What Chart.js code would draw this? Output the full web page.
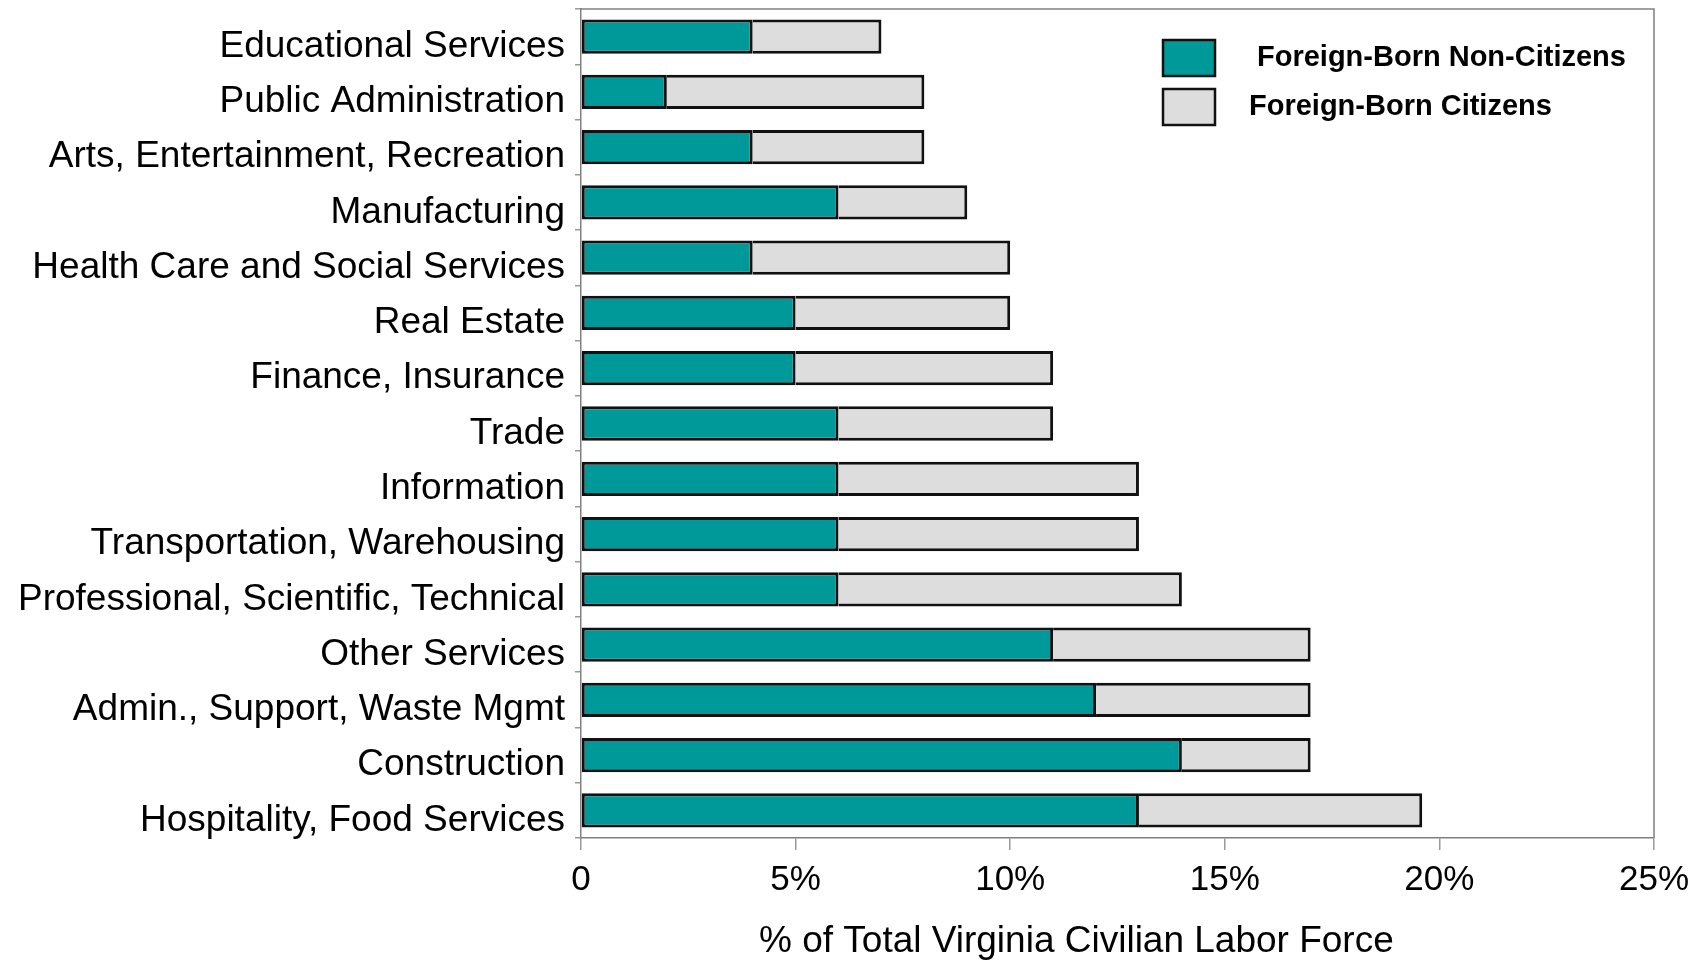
<!DOCTYPE html>
<html>
<head>
<meta charset="utf-8">
<script src="https://cdn.jsdelivr.net/npm/chart.js@4/dist/chart.umd.min.js"></script>
<style>
  html, body { margin: 0; padding: 0; background: #fff; }
  #wrap { width: 1704px; height: 964px; }
</style>
</head>
<body>
<div id="wrap"><canvas id="myChart" width="1704" height="964"></canvas></div>
<script>
const industries = [
  'Educational Services',
  'Public Administration',
  'Arts, Entertainment, Recreation',
  'Manufacturing',
  'Health Care and Social Services',
  'Real Estate',
  'Finance, Insurance',
  'Trade',
  'Information',
  'Transportation, Warehousing',
  'Professional, Scientific, Technical',
  'Other Services',
  'Admin., Support, Waste Mgmt',
  'Construction',
  'Hospitality, Food Services'
];
// % of total labor force
const nonCitizens = [4, 2, 4, 6, 4, 5, 5, 6, 6, 6, 6, 11, 12, 14, 13];
const citizens = [3, 6, 4, 3, 6, 5, 6, 5, 7, 7, 8, 6, 5, 3, 6.6];
const xTicks = [0, 5, 10, 15, 20, 25];
const legendNames = ['Foreign-Born Non-Citizens', 'Foreign-Born Citizens'];
const axisTitle = '% of Total Virginia Civilian Labor Force';

const FONT = '"Liberation Sans", Arial, sans-serif';
const ctx = document.getElementById('myChart').getContext('2d');

// box round the plot + legend in the top right corner
const frameAndLegend = {
  id: 'frameAndLegend',
  afterDraw(chart) {
    const c = chart.ctx;
    const a = chart.chartArea;
    c.save();
    c.strokeStyle = '#808080';
    c.lineWidth = 1.5;
    c.beginPath();
    c.moveTo(a.left, a.top);
    c.lineTo(a.right, a.top);
    c.lineTo(a.right, a.bottom);
    c.stroke();

    const boxes = [
      { x: 1163, y: 40, tx: 1257 },
      { x: 1163, y: 89, tx: 1249 }
    ];
    chart.data.datasets.forEach((ds, i) => {
      const b = boxes[i];
      c.fillStyle = ds.backgroundColor;
      c.fillRect(b.x, b.y, 52, 36);
      c.lineWidth = 2.5;
      c.strokeStyle = '#111';
      c.strokeRect(b.x, b.y, 52, 36);
      c.fillStyle = '#000';
      c.font = 'bold 29px ' + FONT;
      c.textBaseline = 'middle';
      c.textAlign = 'left';
      c.fillText(ds.label, b.tx, b.y + 18);
    });
    c.restore();
  }
};

const myChart = new Chart(ctx, {
  type: 'bar',
  data: {
    labels: industries,
    datasets: [
      {
        label: legendNames[0],
        data: nonCitizens,
        backgroundColor: '#009999',
        borderColor: '#111',
        borderWidth: 3,
        borderSkipped: false
      },
      {
        label: legendNames[1],
        data: citizens,
        backgroundColor: '#DDDDDD',
        borderColor: '#111',
        borderWidth: { left: 0, top: 3, right: 3, bottom: 3 },
        borderSkipped: false
      }
    ]
  },
  options: {
    indexAxis: 'y',
    responsive: false,
    animation: false,
    barPercentage: 0.62,
    categoryPercentage: 1,
    layout: { padding: { top: 9, right: 50, left: 0, bottom: 0 } },
    plugins: {
      legend: { display: false },
      tooltip: { enabled: false }
    },
    scales: {
      x: {
        stacked: true,
        min: 0,
        max: 25,
        afterBuildTicks: (scale) => {
          scale.ticks = xTicks.map((v) => ({ value: v }));
        },
        afterFit: (scale) => {
          scale.height = 126;
          scale.paddingLeft = 0;
          scale.paddingRight = 0;
        },
        ticks: {
          color: '#000',
          font: { family: FONT, size: 35 },
          padding: 9,
          maxRotation: 0,
          callback: (v) => (v === 0 ? '0' : v + '%')
        },
        grid: { drawOnChartArea: false, tickLength: 12, color: '#999', lineWidth: 1.5 },
        border: { color: '#808080', width: 1.5 },
        title: {
          display: true,
          // trailing spaces pull the centred title a little left, as in the original
          text: axisTitle + '        ',
          color: '#000',
          font: { family: FONT, size: 37 },
          padding: { top: 21, bottom: 0 }
        }
      },
      y: {
        stacked: true,
        afterFit: (scale) => {
          scale.width = 581;
          scale.paddingTop = 0;
          scale.paddingBottom = 0;
        },
        ticks: {
          color: '#000',
          font: { family: FONT, size: 37 },
          padding: 10,
          labelOffset: 10,
          autoSkip: false
        },
        grid: { drawOnChartArea: false, tickLength: 6, color: '#999', lineWidth: 1.5 },
        border: { color: '#808080', width: 1.5 }
      }
    }
  },
  plugins: [frameAndLegend]
});
</script>
</body>
</html>
